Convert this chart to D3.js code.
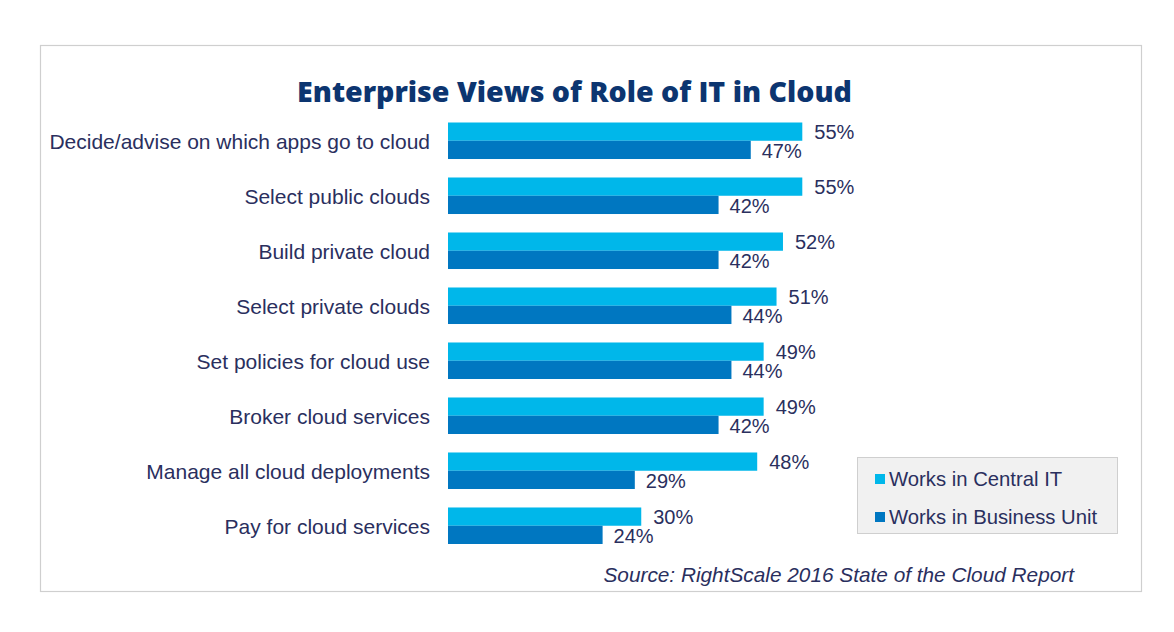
<!DOCTYPE html>
<html><head><meta charset="utf-8">
<script src="https://cdn.jsdelivr.net/npm/d3@7"></script>
<style>body{margin:0;background:#fff}svg{display:block}</style>
</head><body>
<svg id="c" width="1174" height="632"></svg>
<script>
const categories = ["Decide/advise on which apps go to cloud","Select public clouds","Build private cloud","Select private clouds","Set policies for cloud use","Broker cloud services","Manage all cloud deployments","Pay for cloud services"];
const centralIT = [55,55,52,51,49,49,48,30];
const businessUnit = [47,42,42,44,44,42,29,24];
const seriesNames = ["Works in Central IT","Works in Business Unit"];
const colors = ["#00b7ea","#0077c1"];
const title = "Enterprise Views of Role of IT in Cloud";
const source = "Source: RightScale 2016 State of the Cloud Report";

const svg = d3.select("#c");
const textColor = "#2a2f5e";
const font = "'Liberation Sans', Arial, sans-serif";

svg.append("rect").attr("x",40.5).attr("y",45.5).attr("width",1101).attr("height",546)
  .attr("fill","#fff").attr("stroke","#cfcfcf").attr("stroke-width",1.2);

const t = svg.append("text").attr("x",574.5).attr("y",102).attr("text-anchor","middle")
  .attr("font-family","'Open Sans', Lato, sans-serif").attr("font-weight",800)
  .attr("font-size",26).attr("fill","#0c3570").text(title);
const tw = t.node().getComputedTextLength();
t.attr("font-size", 26*555/tw);

const x = d3.scaleLinear().domain([0,55]).range([448,802.3]);
const y = d3.scaleBand().domain(categories).range([122.5,544]).paddingInner(0.336).paddingOuter(0);
const bh = y.bandwidth()/2;

const g = svg.append("g");
const rows = g.selectAll("g.row").data(categories).join("g").attr("class","row");

rows.append("rect").attr("x",x(0)).attr("y",d=>y(d)).attr("height",bh)
  .attr("width",(d,i)=>x(centralIT[i])-x(0)).attr("fill",colors[0]);
rows.append("rect").attr("x",x(0)).attr("y",d=>y(d)+bh).attr("height",bh)
  .attr("width",(d,i)=>x(businessUnit[i])-x(0)).attr("fill",colors[1]);

rows.append("text").attr("x",(d,i)=>x(centralIT[i])+12).attr("y",d=>y(d)+bh/2+0.5)
  .attr("dy","0.35em").attr("font-family",font).attr("font-size",20).attr("fill",textColor)
  .text((d,i)=>centralIT[i]+"%");
rows.append("text").attr("x",(d,i)=>x(businessUnit[i])+11).attr("y",d=>y(d)+bh*1.5+1)
  .attr("dy","0.35em").attr("font-family",font).attr("font-size",20).attr("fill",textColor)
  .text((d,i)=>businessUnit[i]+"%");

rows.append("text").attr("x",430).attr("y",d=>y(d)+bh+1)
  .attr("dy","0.35em").attr("text-anchor","end").attr("font-family",font).attr("font-size",21)
  .attr("fill",textColor).text(d=>d);

// legend
const lg = svg.append("g");
lg.append("rect").attr("x",857.5).attr("y",457.5).attr("width",260).attr("height",76)
  .attr("fill","#f1f1f1").attr("stroke","#cfcfcf");
seriesNames.forEach((s,i)=>{
  const yy = 479 + i*38;
  lg.append("rect").attr("x",875).attr("y",yy-5).attr("width",10).attr("height",10).attr("fill",colors[i]);
  lg.append("text").attr("x",889).attr("y",yy).attr("dy","0.35em").attr("font-family",font)
    .attr("font-size",20.3).attr("fill",textColor).text(s);
});

svg.append("text").attr("x",1074).attr("y",582).attr("text-anchor","end")
  .attr("font-family",font).attr("font-style","italic").attr("font-size",20.8)
  .attr("fill",textColor).text(source);
</script>
</body></html>
